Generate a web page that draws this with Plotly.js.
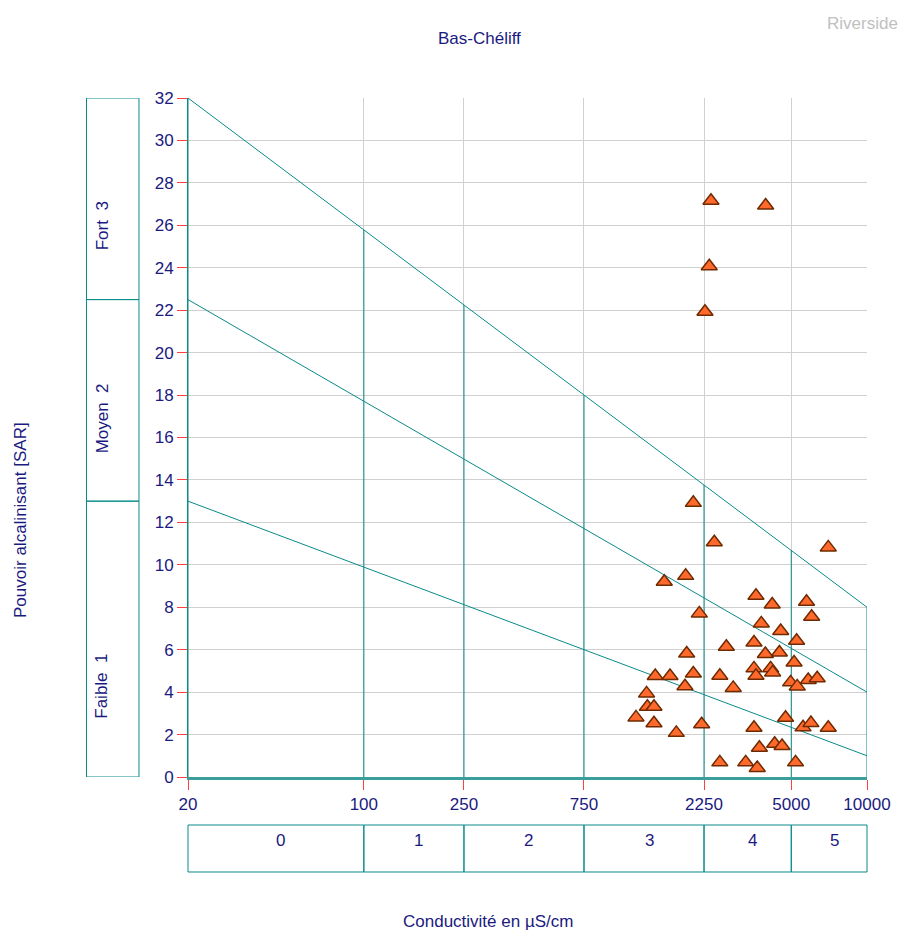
<!DOCTYPE html>
<html><head><meta charset="utf-8">
<script src="https://cdn.plot.ly/plotly-3.0.1.min.js"></script>
<style>html,body{margin:0;padding:0;background:#fff}#chart{width:905px;height:932px}</style>
</head><body><div id="chart"></div>
<script>
// ---- data ----
const conductivity = [2040, 2472, 7015, 1902, 1564, 3620, 4200, 5750, 6025, 2155,
  3800, 4540, 3555, 5250, 2760, 1920, 3945, 4485, 5130, 3555,
  3620, 4140, 4215, 1440, 1648, 2040, 1890, 2600, 2940, 4970,
  5280, 5840, 6340, 1330, 1340, 1423, 1207, 1423, 1746, 2202,
  3555, 4745, 5570, 5985, 7015, 3735, 4295, 4595, 2600, 3295,
  3662, 5200, 2398, 3955, 2360, 2270];
const sar = [12.92, 11.06, 10.82, 9.48, 9.2, 8.54, 8.13, 8.26, 7.55, 7.71,
  7.24, 6.88, 6.34, 6.42, 6.14, 5.82, 5.80, 5.87, 5.40, 5.12,
  4.77, 5.12, 4.93, 4.76, 4.76, 4.88, 4.28, 4.77, 4.20, 4.46,
  4.27, 4.57, 4.65, 3.94, 3.31, 3.31, 2.81, 2.53, 2.08, 2.49,
  2.32, 2.79, 2.34, 2.54, 2.32, 1.38, 1.57, 1.46, 0.69, 0.69,
  0.43, 0.69, 27.16, 26.93, 24.07, 21.93];

const xTicks = [20, 100, 250, 750, 2250, 5000, 10000];
const classBounds = [20, 100, 250, 750, 2250, 5000, 10000];
const classLabels = ['0', '1', '2', '3', '4', '5'];
const sarBounds = [0, 13, 22.5, 32];
const sarLabels = ['Faible\u00a0 1', 'Moyen\u00a0 2', 'Fort\u00a0 3'];
const sarLabelPos = [4.3, 16.9, 26.0];
const lineStartSar = [32, 22.5, 13];   // at 20 µS/cm
const lineEndSar = [8, 4, 1];          // at 10000 µS/cm

// ---- styles ----
const NAVY = '#1a1a80';
const TEAL = '#0a8a8a';
const FONT = '"Liberation Sans", Arial, sans-serif';
const LX0 = Math.log10(20), LX1 = 4;
const px = v => (Math.log10(v) - LX0) / (LX1 - LX0);
const topLine = v => lineStartSar[0] + (lineEndSar[0] - lineStartSar[0]) * px(v);

const traces = [];
for (let i = 0; i < 3; i++) {
  traces.push({x: [20, 10000], y: [lineStartSar[i], lineEndSar[i]], mode: 'lines',
    line: {color: TEAL, width: 1}, hoverinfo: 'skip', showlegend: false});
}
const vx = [], vy = [];
classBounds.forEach(b => { vx.push(b, b, null); vy.push(0, topLine(b), null); });
traces.push({x: vx, y: vy, mode: 'lines', line: {color: TEAL, width: 1},
  hoverinfo: 'skip', showlegend: false});
traces.push({x: conductivity, y: sar, mode: 'markers', showlegend: false,
  marker: {symbol: 'triangle-up', size: 14, color: '#ff6a2c',
    line: {color: '#6e2a00', width: 1.5}}});

const shapes = [];
const annotations = [];
const ann = (o) => Object.assign({xref: 'paper', yref: 'paper', showarrow: false,
  xanchor: 'center', yanchor: 'middle'}, o);
for (let i = 0; i < 3; i++) {
  shapes.push({type: 'rect', xref: 'paper', yref: 'y', x0: -0.1495, x1: -0.0722,
    y0: sarBounds[i], y1: sarBounds[i + 1], line: {color: TEAL, width: 1}});
  annotations.push(ann({yref: 'y', x: -0.1267, y: sarLabelPos[i],
    text: sarLabels[i], textangle: -90,
    font: {family: FONT, size: 17, color: NAVY}}));
}
for (let i = 0; i < 6; i++) {
  const a = px(classBounds[i]), b = px(classBounds[i + 1]);
  shapes.push({type: 'rect', xref: 'paper', yref: 'paper', x0: a, x1: b,
    y0: -0.1399, y1: -0.0707, line: {color: TEAL, width: 1}});
  annotations.push(ann({x: (a + b) / 2, y: -0.0928, xshift: 5, text: classLabels[i],
    font: {family: FONT, size: 17, color: NAVY}}));
}
annotations.push(ann({x: 0.4300, y: 1.0869, text: 'Bas-Chéliff',
  font: {family: FONT, size: 17, color: NAVY}}));
annotations.push(ann({x: 1.0486, y: 1.109, xanchor: 'right', text: 'Riverside',
  font: {family: FONT, size: 17, color: '#c0c0c0'}}));
annotations.push(ann({x: 0.4418, y: -0.2121, text: 'Conductivité en µS/cm',
  font: {family: FONT, size: 17, color: NAVY}}));
annotations.push(ann({x: -0.246, y: 0.3785, textangle: -90,
  text: 'Pouvoir alcalinisant [SAR]', font: {family: FONT, size: 17, color: NAVY}}));

const layout = {
  width: 905, height: 932,
  margin: {l: 188, r: 38, t: 98, b: 155, pad: 0},
  paper_bgcolor: '#ffffff', plot_bgcolor: '#ffffff',
  font: {family: FONT, color: NAVY},
  showlegend: false,
  xaxis: {type: 'log', range: [LX0, LX1], tickmode: 'array', tickvals: xTicks,
    ticktext: xTicks.map(String), ticks: 'outside', ticklen: 10, tickcolor: '#ff4040',
    tickfont: {family: FONT, size: 17, color: NAVY}, showgrid: true,
    gridcolor: '#d0d0d0', gridwidth: 1, zeroline: false, showline: true,
    linecolor: '#3a9e9e', linewidth: 2.5},
  yaxis: {range: [0, 32], tick0: 0, dtick: 2, ticks: 'outside', ticklen: 10,
    tickcolor: '#ff4040', tickfont: {family: FONT, size: 17, color: NAVY},
    showgrid: true, gridcolor: '#d0d0d0', gridwidth: 1, zeroline: false,
    showline: true, linecolor: TEAL, linewidth: 1},
  shapes: shapes,
  annotations: annotations
};
Plotly.newPlot('chart', traces, layout, {displayModeBar: false, staticPlot: true});
</script>
</body></html>
